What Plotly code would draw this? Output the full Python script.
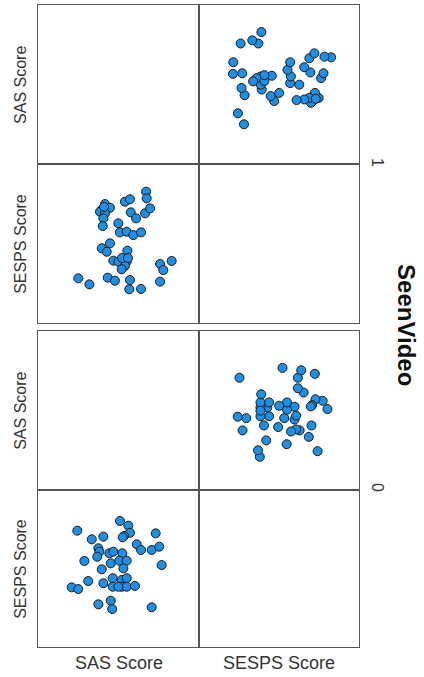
import plotly.graph_objects as go

# SeenVideo = 1 (top panel)
sas_1 = [67.1, 67.5, 54.0, 57.1, 41.6, 44.7, 39.6, 38.5, 41.6, 57.6, 60.9, 66.5, 69.6,
         40.6, 40.2, 49.9, 50.9, 55.1, 59.2, 64.0, 44.7, 39.6, 42.7, 55.5, 46.8, 49.9,
         55.1, 54.0, 52.0, 75.8, 83.0, 77.8, 25.0, 31.9, 43.3, 47.8, 57.1, 56.7, 64.0,
         75.8, 52.2, 55.9, 41.0]
sesps_1 = [82.6, 78.4, 76.3, 77.8, 74.8, 72.5, 71.1, 70.0, 69.0, 69.6, 65.8, 69.0, 72.1,
           65.8, 61.0, 62.7, 57.0, 57.4, 55.3, 57.0, 50.1, 47.0, 44.8, 45.5, 39.2, 38.6,
           38.6, 36.0, 33.8, 37.1, 39.0, 33.3, 28.1, 24.3, 28.5, 26.6, 27.0, 21.2, 21.4,
           26.0, 40.9, 40.9, 73.0]

# SeenVideo = 0 (bottom panel)
sas_0 = [24.4, 50.9, 56.1, 57.1, 53.4, 52.6, 40.6, 33.4, 37.5, 38.1, 36.8, 44.3, 46.8,
         52.4, 61.3, 64.0, 70.6, 75.3, 73.1, 28.8, 45.2, 50.5, 55.1, 53.0, 39.6, 76.8,
         31.2, 20.9, 25.0, 40.6, 46.4, 46.4, 52.0, 52.0, 55.1, 55.1, 60.2, 37.5, 45.2,
         46.1, 70.6, 49.9]
sesps_0 = [74.1, 80.3, 77.3, 72.8, 70.7, 69.9, 70.3, 68.6, 62.9, 60.7, 57.5, 59.7, 60.7,
           59.7, 65.4, 61.8, 61.8, 63.9, 72.4, 54.8, 53.3, 55.0, 55.0, 50.1, 49.5, 52.2,
           42.0, 38.0, 36.9, 40.6, 43.8, 38.4, 42.7, 38.4, 43.8, 38.4, 38.9, 27.2, 29.5,
           24.2, 25.3, 38.4]

variables = ["SAS Score", "SESPS Score"]
panels = ["1", "0"]
group_title = "SeenVideo"

MARKER = dict(size=9, color="#1e8fe4", line=dict(color="#1a1a1a", width=1))
LINE = "#555555"

fig = go.Figure()

xd = [[0.0, 0.5016], [0.5016, 1.0]]
yd = {
    1: [0.7523, 1.0],
    2: [0.5047, 0.7523],
    3: [0.2445, 0.4922],
    4: [0.0, 0.2445],
}

idx = 0
for row in range(1, 5):
    for col in range(1, 3):
        idx += 1
        sfx = "" if idx == 1 else str(idx)
        xa = dict(domain=xd[col - 1], range=[0, 100], showgrid=False, zeroline=False,
                  showticklabels=False, ticks="", showline=True, mirror=True,
                  linecolor=LINE, linewidth=1, anchor="y" + sfx, fixedrange=True)
        ya = dict(domain=yd[row], range=[0, 100], showgrid=False, zeroline=False,
                  showticklabels=False, ticks="", showline=True, mirror=True,
                  linecolor=LINE, linewidth=1, anchor="x" + sfx, fixedrange=True)
        fig.update_layout(**{"xaxis" + sfx: xa, "yaxis" + sfx: ya})
        sas, sesps = (sas_1, sesps_1) if row <= 2 else (sas_0, sesps_0)
        row_var = "SAS" if row in (1, 3) else "SESPS"
        col_var = "SAS" if col == 1 else "SESPS"
        if row_var == col_var:
            xs, ys = [], []
        else:
            xs = sas if col_var == "SAS" else sesps
            ys = sas if row_var == "SAS" else sesps
        fig.add_trace(go.Scatter(x=xs, y=ys, mode="markers", marker=MARKER,
                                 xaxis="x" + sfx, yaxis="y" + sfx,
                                 showlegend=False, hoverinfo="skip"))

FONT = "Liberation Sans, Arial, sans-serif"
ann = []
row_centers = [0.876, 0.6285, 0.3684, 0.1223]
row_vars = [variables[0], variables[1], variables[0], variables[1]]
for yc, name in zip(row_centers, row_vars):
    ann.append(dict(text=name, x=-0.055, y=yc, xref="paper", yref="paper",
                    showarrow=False, textangle=-90, xanchor="center", yanchor="middle",
                    font=dict(family=FONT, size=16, color="#333333")))
for xc, name in zip([0.2508, 0.7508], variables):
    ann.append(dict(text=name, x=xc, y=-0.0249, xref="paper", yref="paper",
                    showarrow=False, xanchor="center", yanchor="middle",
                    font=dict(family=FONT, size=18, color="#333333")))
for yc, name in zip([0.754, 0.2477], panels):
    ann.append(dict(text=name, x=1.056, y=yc, xref="paper", yref="paper",
                    showarrow=False, textangle=90, xanchor="center", yanchor="middle",
                    font=dict(family=FONT, size=16, color="#333333")))
ann.append(dict(text="<b>" + group_title + "</b>", x=1.146, y=0.5016, xref="paper",
                yref="paper", showarrow=False, textangle=90, xanchor="center",
                yanchor="middle", font=dict(family=FONT, size=24, color="#111111")))

fig.update_layout(width=424, height=677, margin=dict(l=38, r=65, t=5, b=30),
                  paper_bgcolor="white", plot_bgcolor="white", annotations=ann)

fig.write_html("out.html", config={"displayModeBar": False},
               post_script="document.body.style.margin='0';document.body.style.padding='0';")
